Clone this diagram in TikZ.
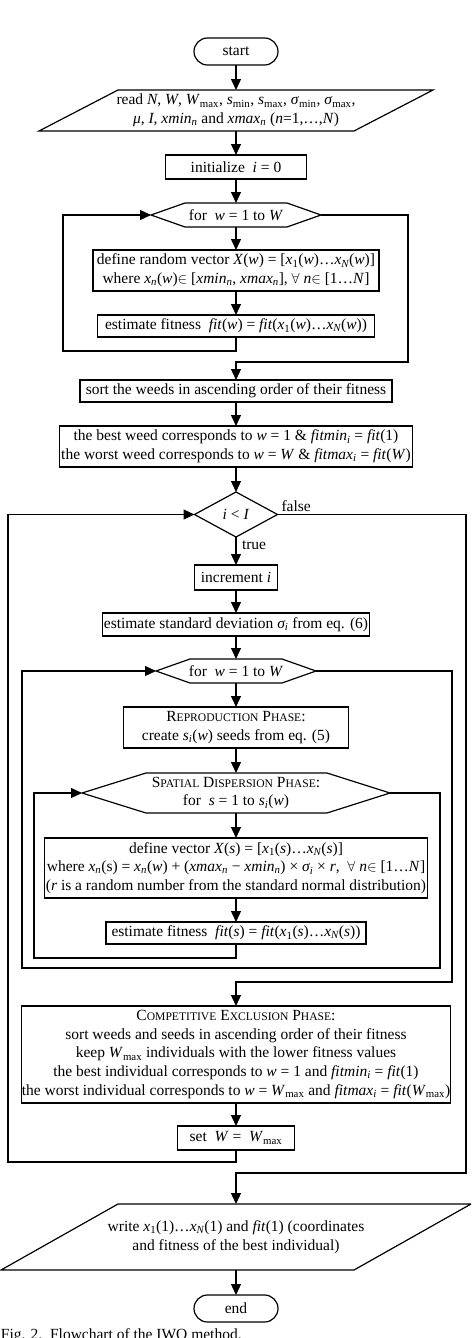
\documentclass[tikz,border=0pt]{standalone}
\usepackage{fontspec}
\setmainfont{Liberation Serif}
\usetikzlibrary{arrows.meta,shapes.geometric}
\newcommand\ssub[1]{\textsubscript{#1}}
\newcommand\fsc[2]{#1{\fontsize{11.6pt}{12pt}\selectfont #2}}
\begin{document}
\begin{tikzpicture}[x=1pt,y=-1pt,
  font=\fontsize{15.5pt}{18.7pt}\selectfont,
  every node/.style={inner sep=0pt, outer sep=0pt},
  box/.style={draw, line width=1.2pt, rectangle, align=center},
  term/.style={draw, line width=1.2pt, rectangle, rounded corners=13.5pt, minimum width=84pt, minimum height=27pt},
  plain/.style={rectangle, align=center},
  outline/.style={draw, line width=1.2pt, line join=miter},
  conn/.style={line width=1.2pt, -{Triangle[length=11pt,width=10pt]}},
  lbl/.style={anchor=base west}
]
\useasboundingbox (0,0) rectangle (471,1338);
\clip (0,0) rectangle (471,1338);

% ---------- nodes ----------
\node[term] (start) at (236,51.5) {start};

\node[plain, minimum width=236pt, minimum height=41pt] (read) at (236,110.5)
  {read \textit{N}, \textit{W}, \textit{W}\ssub{max}, \textit{s}\ssub{min}, \textit{s}\ssub{max}, \textit{σ}\ssub{min}, \textit{σ}\ssub{max},\\
   \textit{μ}, \textit{I}, \textit{xmin\ssub{n}} and \textit{xmax\ssub{n}} (\textit{n}=1,…,\textit{N})};
\draw[outline] ([xshift=-118pt]read.north) -- ([xshift=197pt]read.north)
  -- ([xshift=118pt]read.south) -- ([xshift=-197pt]read.south) -- cycle;

\node[box, minimum width=141pt, minimum height=24pt] (init) at (236,167) {initialize\ \ \textit{i} = 0};

\node[plain, minimum width=170pt, minimum height=24pt] (for1) at (236,215) {for\ \ \textit{w} = 1 to \textit{W}};
\draw[outline] (for1.west) -- ([xshift=34pt]for1.north west) -- ([xshift=-34pt]for1.north east)
  -- (for1.east) -- ([xshift=-34pt]for1.south east) -- ([xshift=34pt]for1.south west) -- cycle;

\node[box, minimum width=286pt, minimum height=41pt] (define) at (236,270.5)
  {define random vector \textit{X}(\textit{w}) = [\textit{x}\ssub{1}(\textit{w})…\textit{x\ssub{N}}(\textit{w})]\\
   where \textit{x\ssub{n}}(\textit{w})$\in$ [\textit{xmin\ssub{n}}, \textit{xmax\ssub{n}}], $\forall$ \textit{n}$\in$ [1…\textit{N}]};

\node[box, minimum width=277pt, minimum height=22pt] (est1) at (236,326)
  {estimate fitness\ \ \textit{fit}(\textit{w}) = \textit{fit}(\textit{x}\ssub{1}(\textit{w})…\textit{x\ssub{N}}(\textit{w}))};

\node[box, minimum width=312pt, minimum height=22pt] (sort) at (236,391)
  {sort the weeds in ascending order of their fitness};

\node[box, minimum width=353pt, minimum height=41pt] (best) at (236,446.5)
  {the best weed corresponds to \textit{w} = 1 \& \textit{fitmin\ssub{i}} = \textit{fit}(1)\\
   the worst weed corresponds to \textit{w} = \textit{W} \& \textit{fitmax\ssub{i}} = \textit{fit}(\textit{W})};

\node[draw, line width=1.2pt, diamond, minimum width=83pt, minimum height=45pt] (dia) at (236,514.5)
  {\textit{i} < \textit{I}};
\node[lbl] (lfalse) at ([xshift=4pt,yshift=3pt]dia.east) {false};
\node[lbl] (ltrue) at ([xshift=6pt,yshift=-12pt]dia.south) {true};

\node[box, minimum width=83pt, minimum height=25pt] (incr) at (236,577.5) {increment \textit{i}};

\node[box, minimum width=267pt, minimum height=23pt] (sd) at (236,624.5)
  {estimate standard deviation \textit{σ\ssub{i}} from eq. (6)};

\node[plain, minimum width=160pt, minimum height=24pt] (for2) at (236,671) {for\ \ \textit{w} = 1 to \textit{W}};
\draw[outline] (for2.west) -- ([xshift=34pt]for2.north west) -- ([xshift=-34pt]for2.north east)
  -- (for2.east) -- ([xshift=-34pt]for2.south east) -- ([xshift=34pt]for2.south west) -- cycle;

\node[box, minimum width=225pt, minimum height=41pt] (repro) at (236,727.5)
  {\fsc{R}{EPRODUCTION} \fsc{P}{HASE}:\\ create \textit{s\ssub{i}}(\textit{w}) seeds from eq. (5)};

\node[plain, minimum width=308pt, minimum height=40pt] (spat) at (236,793)
  {\fsc{S}{PATIAL} \fsc{D}{ISPERSION} \fsc{P}{HASE}:\\ for\ \ \textit{s} = 1 to \textit{s\ssub{i}}(\textit{w})};
\draw[outline] (spat.west) -- ([xshift=64pt]spat.north west) -- ([xshift=-63pt]spat.north east)
  -- (spat.east) -- ([xshift=-63pt]spat.south east) -- ([xshift=64pt]spat.south west) -- cycle;

\node[box, minimum width=383pt, minimum height=60pt] (defvec) at (236,868)
  {define vector \textit{X}(\textit{s}) = [\textit{x}\ssub{1}(\textit{s})…\textit{x\ssub{N}}(\textit{s})]\\
   where \textit{x\ssub{n}}(s) = \textit{x\ssub{n}}(\textit{w}) + (\textit{xmax\ssub{n}} − \textit{xmin\ssub{n}}) × \textit{σ\ssub{i}} × \textit{r},\ \ $\forall$ \textit{n}$\in$ [1…\textit{N}]\\
   (\textit{r} is a random number from the standard normal distribution)};

\node[box, minimum width=260pt, minimum height=22pt] (est2) at (236,933)
  {estimate fitness\ \ \textit{fit}(\textit{s}) = \textit{fit}(\textit{x}\ssub{1}(\textit{s})…\textit{x\ssub{N}}(\textit{s}))};

\node[box, minimum width=423pt, minimum height=97pt] (ce) at (236,1054.5)
  {\fsc{C}{OMPETITIVE} \fsc{E}{XCLUSION} \fsc{P}{HASE}:\\
   sort weeds and seeds in ascending order of their fitness\\
   keep \textit{W}\ssub{max} individuals with the lower fitness values\\
   the best individual corresponds to \textit{w} = 1 and \textit{fitmin\ssub{i}} = \textit{fit}(1)\\
   the worst individual corresponds to \textit{w} = \textit{W}\ssub{max} and \textit{fitmax\ssub{i}} = \textit{fit}(\textit{W}\ssub{max})};

\node[box, minimum width=117pt, minimum height=24pt] (set) at (236,1138) {set\ \ \textit{W} =\ \ \textit{W}\ssub{max}};

\node[plain, minimum width=236pt, minimum height=66pt] (write) at (236,1237)
  {write \textit{x}\ssub{1}(1)…\textit{x\ssub{N}}(1) and \textit{fit}(1) (coordinates\\ and fitness of the best individual)};
\draw[outline] ([xshift=-118pt]write.north) -- ([xshift=235pt]write.north)
  -- ([xshift=118pt]write.south) -- ([xshift=-235pt]write.south) -- cycle;

\node[term] (end) at (236,1308.5) {end};

\node[anchor=base west] (cap) at (1,1339.5) {Fig. 2.\ \ Flowchart of the IWO method.};

% ---------- loop coordinates ----------
\coordinate (l1) at (63,351);
\coordinate (r1) at (408,362);
\coordinate (l2) at (34,958);
\coordinate (r2) at (440,968);
\coordinate (l3) at (22,968);
\coordinate (r3) at (452,982);
\coordinate (l4) at (8,1162);
\coordinate (r4) at (466,1173);

% ---------- connectors ----------
\draw[conn] (start) -- (read);
\draw[conn] (read) -- (init);
\draw[conn] (init) -- (for1);
\draw[conn] (for1) -- (define);
\draw[conn] (define) -- (est1);
\draw[conn] (est1.south) |- (l1) |- (for1.west);
\draw[conn] (for1.east) -| (r1) -| (sort.north);
\draw[conn] (sort) -- (best);
\draw[conn] (best) -- (dia);
\draw[conn] (dia) -- (incr);
\draw[conn] (incr) -- (sd);
\draw[conn] (sd) -- (for2);
\draw[conn] (for2) -- (repro);
\draw[conn] (repro) -- (spat);
\draw[conn] (spat) -- (defvec);
\draw[conn] (defvec) -- (est2);
\draw[conn] (est2.south) |- (l2) |- (spat.west);
\draw[conn] (spat.east) -| (r2) -- (l3) |- (for2.west);
\draw[conn] (for2.east) -| (r3) -| (ce.north);
\draw[conn] (ce) -- (set);
\draw[conn] (set.south) |- (l4) |- (dia.west);
\draw[conn] (dia.east) -| (r4) -| (write.north);
\draw[conn] (write) -- (end);
\end{tikzpicture}
\end{document}
